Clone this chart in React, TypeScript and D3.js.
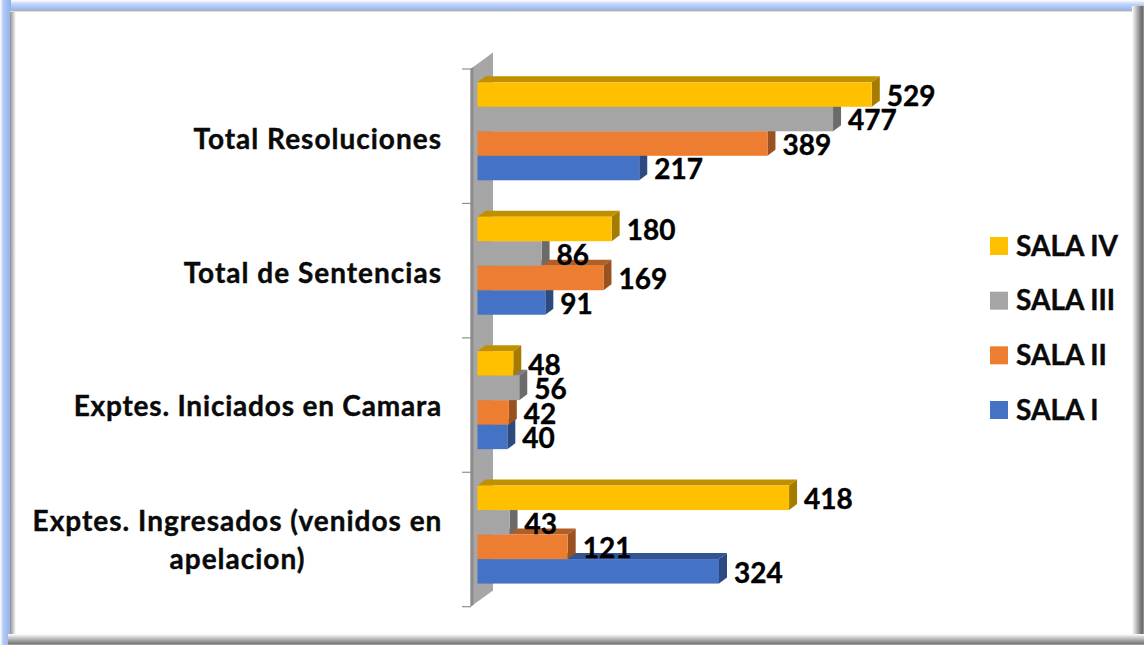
import React from "react";
import * as d3 from "d3";

const categories = ["Total Resoluciones", "Total de Sentencias", "Exptes. Iniciados en Camara", "Exptes. Ingresados (venidos en apelacion)"];
const categoryLines = [["Total Resoluciones"], ["Total de Sentencias"], ["Exptes. Iniciados en Camara"], ["Exptes. Ingresados (venidos en", "apelacion)"]];
const seriesNames = ["SALA IV", "SALA III", "SALA II", "SALA I"];
const salaIV = [529, 180, 48, 418];
const salaIII = [477, 86, 56, 43];
const salaII = [389, 169, 42, 121];
const salaI = [217, 91, 40, 324];
const seriesValues = [salaIV, salaIII, salaII, salaI];
const front = ["#FFC000", "#A5A5A5", "#ED7D31", "#4472C4"];
const topFace = ["#BF9000", "#7C7C7C", "#B25E25", "#335693"];
const sideFace = ["#A57C00", "#6B6B6B", "#9A5120", "#2C4A80"];

const FONT = "Lato, Carlito, Calibri, sans-serif";
const DX = 8, DY = 6;

export default function App() {
  const x = d3.scaleLinear().domain([0, 529]).range([477.5, 871.8]);
  const y = d3.scaleBand<number>().domain(d3.range(categories.length)).range([69, 606.7]);
  const inner = d3.scaleBand<number>().domain(d3.range(seriesNames.length)).range([13.3, 111.3]);
  const legendY = d3.scalePoint<number>().domain(d3.range(seriesNames.length)).range([246, 410]);
  const paintOrder = [3, 2, 1, 0];
  const h = inner.bandwidth();
  const ticks = d3.range(categories.length + 1).map((i) => 69 + i * y.step());
  const poly = (pts: number[][]) => pts.map((p) => p.join(",")).join(" ");
  const labelOffset = [12.8, 12.4, 11, 10.6];

  return (
    <svg width={1144} height={645} style={{ position: "absolute", left: 0, top: 0 }} fontFamily={FONT}>
      <defs>
        <linearGradient id="gTop" x1="0" y1="0" x2="0" y2="1">
          <stop offset="0" stopColor="#ffffff" /><stop offset="0.35" stopColor="#c4d5f5" /><stop offset="1" stopColor="#8fb0ee" />
        </linearGradient>
        <linearGradient id="gLeft" x1="0" y1="0" x2="1" y2="0">
          <stop offset="0" stopColor="#ffffff" /><stop offset="0.3" stopColor="#b4c9f2" /><stop offset="1" stopColor="#8fb0ee" />
        </linearGradient>
        <linearGradient id="gInL" x1="0" y1="0" x2="1" y2="0">
          <stop offset="0" stopColor="#8f8f8f" /><stop offset="1" stopColor="#ffffff" />
        </linearGradient>
        <linearGradient id="gInT" x1="0" y1="0" x2="0" y2="1">
          <stop offset="0" stopColor="#9a9a9a" /><stop offset="1" stopColor="#f4f4f4" />
        </linearGradient>
        <linearGradient id="gR" x1="0" y1="0" x2="1" y2="0">
          <stop offset="0" stopColor="#ffffff" /><stop offset="0.75" stopColor="#777777" /><stop offset="0.9" stopColor="#6a6a6a" /><stop offset="1" stopColor="#b0b0b0" />
        </linearGradient>
        <linearGradient id="gB" x1="0" y1="0" x2="0" y2="1">
          <stop offset="0" stopColor="#ffffff" /><stop offset="0.75" stopColor="#8a8a8a" /><stop offset="0.9" stopColor="#777777" /><stop offset="1" stopColor="#b8b8b8" />
        </linearGradient>
      </defs>
      <rect width={1144} height={645} fill="#fff" />
      {/* frame */}
      <rect x={0} y={0} width={1144} height={11} fill="url(#gTop)" />
      <rect x={0} y={0} width={11} height={645} fill="url(#gLeft)" />
      <rect x={10} y={10} width={6} height={628} fill="url(#gInL)" />
      <rect x={10} y={10} width={1126} height={2} fill="url(#gInT)" />
      <rect x={1132} y={6} width={12} height={639} fill="url(#gR)" />
      <rect x={8} y={634} width={1136} height={11} fill="url(#gB)" />

      {/* wall */}
      <polygon points={poly([[470.5, ticks[0]], [493, 52.5], [493, 590.5], [470.5, ticks[4]]])} fill="#A6A6A6" />
      <polygon points={poly([[470.5, ticks[0]], [473.5, ticks[0] - 2], [473.5, ticks[4] - 2], [470.5, ticks[4]]])} fill="#8C8C8C" />
      {ticks.map((t) => (
        <line key={t} x1={462} x2={471} y1={t} y2={t} stroke="#8f8f8f" strokeWidth={1.2} />
      ))}

      {/* bars */}
      {categories.map((c, ci) => (
        <g key={c}>
          {paintOrder.map((si) => {
            const v = seriesValues[si][ci];
            const x0 = x(0), x1 = x(v);
            const yy = y(ci)! + inner(si)!;
            return (
              <g key={si}>
                <polygon points={poly([[x0, yy], [x0 + DX, yy - DY], [x1 + DX, yy - DY], [x1, yy]])} fill={topFace[si]} />
                <polygon points={poly([[x1, yy], [x1 + DX, yy - DY], [x1 + DX, yy + h - DY], [x1, yy + h]])} fill={sideFace[si]} />
                <rect x={x0} y={yy} width={x1 - x0} height={h} fill={front[si]} />
              </g>
            );
          })}
        </g>
      ))}

      {/* value labels */}
      {categories.map((c, ci) =>
        paintOrder.map((si) => {
          const v = seriesValues[si][ci];
          return (
            <text key={c + si} x={x(v) + 15} y={y(ci)! + inner(si)! + h / 2 + 11.2} fontSize={28} fontWeight={700} fill="#000" stroke="#000" strokeWidth={0.4}>
              {v}
            </text>
          );
        })
      )}

      {/* category labels */}
      {categoryLines.map((lines, ci) => {
        const widest = 407;
        const cy = y(ci)! + y.step() / 2 + labelOffset[ci];
        return (
          <g key={ci}>
            {lines.map((l, li) => (
              <text
                key={l}
                x={lines.length > 1 ? 441 - widest / 2 : 442}
                y={cy + (li - (lines.length - 1) / 2) * 38}
                textAnchor={lines.length > 1 ? "middle" : "end"}
                fontSize={28}
                letterSpacing={ci === 2 ? 0.8 : 1}
                fontWeight={700}
                fill="#0a0a0a"
                stroke="#0a0a0a"
                strokeWidth={0.4}
              >
                {l}
              </text>
            ))}
          </g>
        );
      })}

      {/* legend */}
      {seriesNames.map((s, si) => (
        <g key={s}>
          <rect x={990} y={legendY(si)! - 9} width={18} height={18} fill={front[si]} />
          <text x={1016} y={legendY(si)! + 9.5} fontSize={28} fontWeight={700} fill="#0a0a0a" stroke="#0a0a0a" strokeWidth={0.4}>{s}</text>
        </g>
      ))}
    </svg>
  );
}
